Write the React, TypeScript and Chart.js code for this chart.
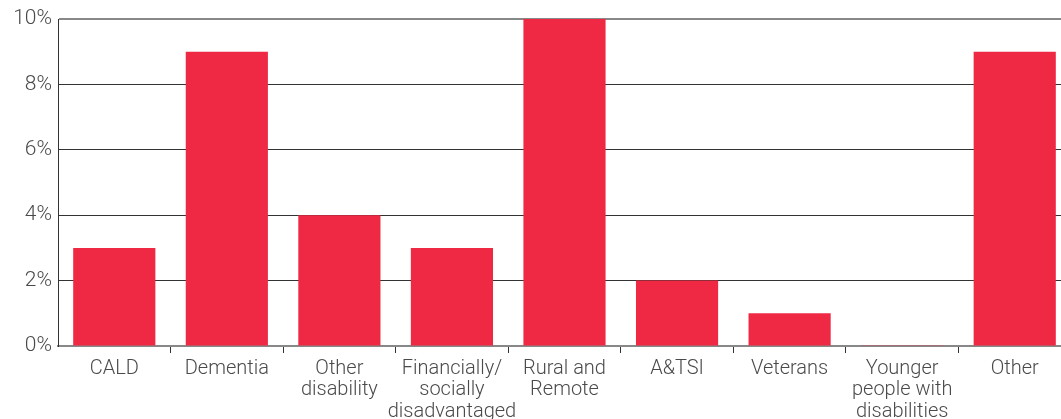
import React, { useEffect, useRef } from "react";
import { Chart, registerables } from "chart.js";

Chart.register(...registerables);

const categories: (string | string[])[] = [
  "CALD",
  "Dementia",
  ["Other", "disability"],
  ["Financially/", "socially", "disadvantaged"],
  ["Rural and", "Remote"],
  "A&TSI",
  "Veterans",
  ["Younger", "people with", "disabilities"],
  "Other",
];

const values: number[] = [3, 9, 4, 3, 10, 2, 1, 0.02, 9];

const yTicks: number[] = [0, 2, 4, 6, 8, 10];

const BAR_COLOR = "#EF2944";
const TEXT_COLOR = "#4a4a4a";
const FONT = "Roboto";

export default function App() {
  const ref = useRef<HTMLCanvasElement | null>(null);

  useEffect(() => {
    if (!ref.current) return;
    const chart = new Chart(ref.current, {
      type: "bar",
      data: {
        labels: categories,
        datasets: [
          {
            data: values,
            backgroundColor: BAR_COLOR,
            borderWidth: 0,
            categoryPercentage: 1,
            barPercentage: 0.73,
          },
        ],
      },
      options: {
        animation: false,
        responsive: true,
        maintainAspectRatio: false,
        layout: { padding: { top: 19, right: 0, left: 0, bottom: 0 } },
        plugins: {
          legend: { display: false },
          tooltip: { enabled: false },
        },
        scales: {
          x: {
            grid: {
              offset: true,
              drawOnChartArea: false,
              drawTicks: true,
              tickLength: 7,
              color: (ctx: any) => (ctx.index === 0 ? "rgba(0,0,0,0)" : "#333333"),
            },
            border: { display: true, color: "#888888", width: 2 },
            ticks: {
              color: TEXT_COLOR,
              padding: 5,
              maxRotation: 0,
              autoSkip: false,
              font: { family: FONT, size: 20, weight: 300, lineHeight: 1.08 },
            },
            afterFit: (scale: any) => {
              scale.height = 73;
            },
          },
          y: {
            min: 0,
            max: 10,
            afterBuildTicks: (scale: any) => {
              scale.ticks = yTicks.map((v) => ({ value: v }));
            },
            grid: {
              drawTicks: false,
              color: (ctx: any) =>
                ctx.tick && ctx.tick.value === 10 ? "#888888" : ctx.tick && ctx.tick.value === 0 ? "rgba(0,0,0,0)" : "#333333",
              lineWidth: (ctx: any) => (ctx.tick && ctx.tick.value === 10 ? 2 : 1),
            },
            border: { display: true, color: "#333333", width: 1 },
            ticks: {
              color: TEXT_COLOR,
              padding: 6,
              font: { family: FONT, size: 21, weight: 300 },
              callback: (v: any) => v + "%",
            },
            afterFit: (scale: any) => {
              scale.width = 58;
            },
          },
        },
      },
    });
    return () => chart.destroy();
  }, []);

  return (
    <div style={{ position: "fixed", left: 0, top: 0, width: 1061, height: 419, overflow: "hidden", background: "#fff" }}>
      <div style={{ position: "relative", width: 1071, height: 419 }}>
        <canvas ref={ref} />
      </div>
    </div>
  );
}
